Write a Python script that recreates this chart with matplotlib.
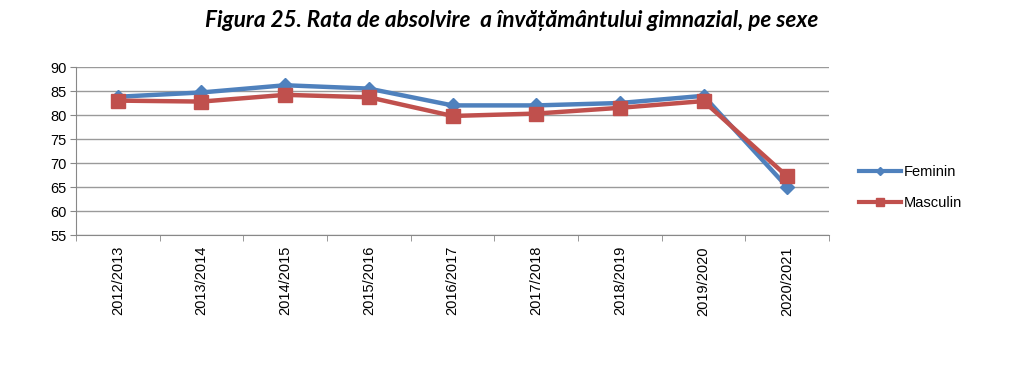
import matplotlib
matplotlib.use("Agg")
import matplotlib.pyplot as plt
import numpy as np

years = ["2012/2013", "2013/2014", "2014/2015", "2015/2016", "2016/2017",
         "2017/2018", "2018/2019", "2019/2020", "2020/2021"]
feminin = [83.8, 84.7, 86.2, 85.5, 82.0, 82.0, 82.5, 84.0, 65.0]
masculin = [83.0, 82.8, 84.2, 83.7, 79.8, 80.3, 81.5, 82.9, 67.2]
yticks = [55, 60, 65, 70, 75, 80, 85, 90]
title = "Figura 25. Rata de absolvire  a învățământului gimnazial, pe sexe"

fig = plt.figure(figsize=(10.24, 3.68), dpi=100)
ax = fig.add_axes([0.0742, 0.3614, 0.7354, 0.4565])

x = np.arange(len(years))
ax.plot(x, feminin, color="#4F81BD", lw=3.2, marker="D", ms=7,
        label="Feminin", zorder=3)
ax.plot(x, masculin, color="#C0504D", lw=3.2, marker="s", ms=9.5,
        label="Masculin", zorder=4)

ax.set_xlim(-0.5, len(years) - 0.5)
ax.set_ylim(55, 90)
ax.set_yticks(yticks)
ax.set_yticklabels([str(v) for v in yticks], fontsize=10.5, family="Liberation Sans")
ax.set_xticks(x)
ax.set_xticklabels(years, rotation=90, fontsize=10.5, family="Liberation Sans")
ax.tick_params(axis="x", length=0, pad=8)
ax.set_xticks(np.arange(-0.5, len(years)), minor=True)
ax.tick_params(axis="x", which="minor", length=4, color="#888888")
ax.tick_params(axis="y", length=4, color="#888888", pad=3)
ax.grid(axis="y", color="#9a9a9a", lw=1)
ax.set_axisbelow(True)
for s in ["top", "right"]:
    ax.spines[s].set_visible(False)
for s in ["left", "bottom"]:
    ax.spines[s].set_color("#888888")

leg_handles = [
    plt.Line2D([], [], color="#4F81BD", lw=3, marker="D", ms=4),
    plt.Line2D([], [], color="#C0504D", lw=3, marker="s", ms=6),
]
fig.legend(leg_handles, ["Feminin", "Masculin"], loc="center left",
           bbox_to_anchor=(0.826, 0.49), frameon=False,
           prop={"family": "Liberation Sans", "size": 10.5},
           handlelength=2.9, labelspacing=1.2, handletextpad=0.2)

fig.text(0.4995, 0.945, title, ha="center", va="center", fontsize=16.2,
         style="italic", weight="bold", family="Lato")

fig.savefig("out.png", dpi=100)
